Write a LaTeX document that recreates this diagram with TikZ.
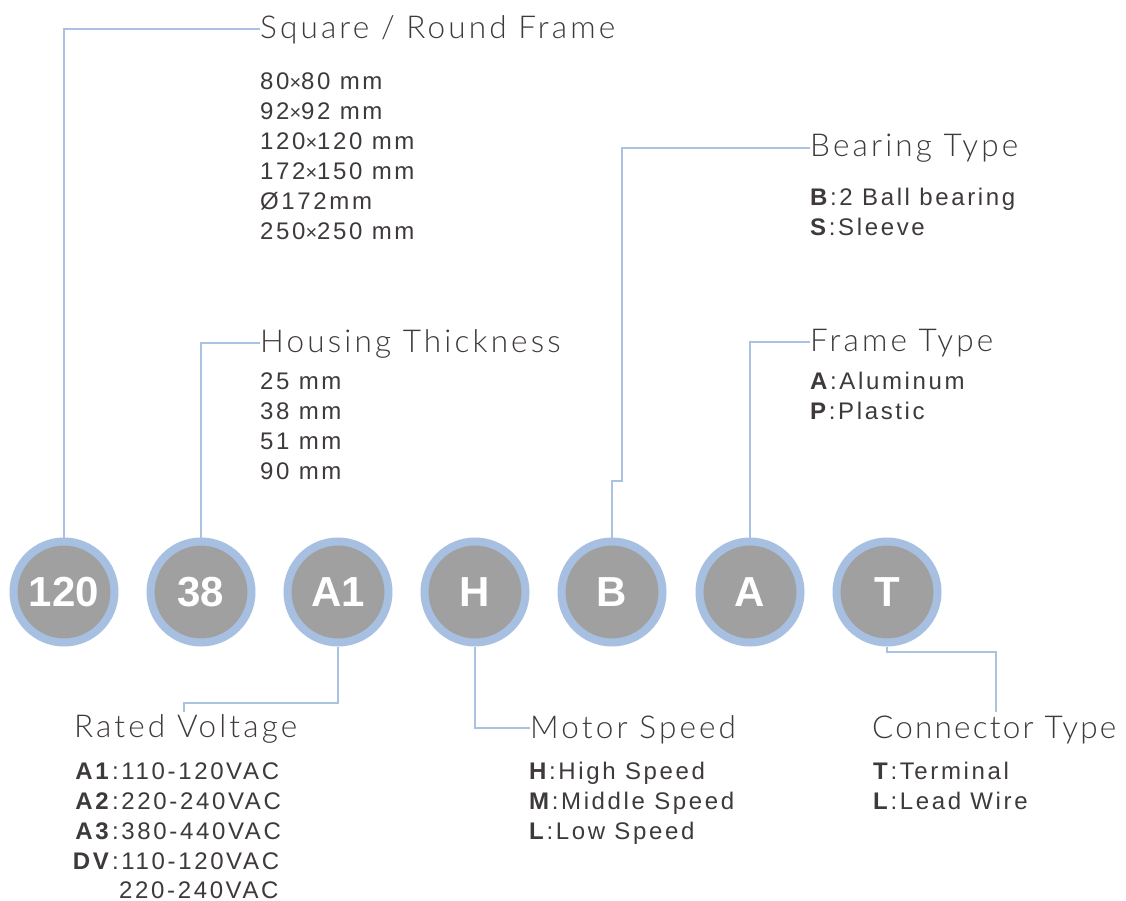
\documentclass[tikz,border=0pt]{standalone}
\usepackage{fontspec}
\setmainfont{Liberation Sans}
\newfontfamily\titlefam[LetterSpace=10]{Lato Light}
\newfontfamily\bodyfam[LetterSpace=11]{Liberation Sans}
\newfontfamily\badgefam{Liberation Sans}
\definecolor{txt}{HTML}{3E3A39}
\definecolor{circgray}{HTML}{A0A0A0}
\definecolor{ringblue}{HTML}{A7BFE0}
\definecolor{lineblue}{HTML}{A9C2E2}
\newcommand{\tms}{{\fontsize{20}{20}\selectfont ×}}
\begin{document}
\begin{tikzpicture}[x=1pt,y=-1pt,
  badge/.style={circle, fill=circgray, draw=ringblue, line width=8pt, minimum size=101pt, inner sep=0pt, text=white, font=\badgefam\fontsize{42}{42}\selectfont\bfseries},
  conn/.style={draw=lineblue, line width=1.5pt},
  ttl/.style={anchor=base west, inner sep=0pt, text=txt, font=\titlefam\fontsize{31.5}{31.5}\selectfont},
  bdy/.style={anchor=base west, inner sep=0pt, text=txt, font=\bodyfam\fontsize{24}{30}\selectfont},
  lbl/.style={anchor=base east, inner sep=0pt, text=txt, font=\bodyfam\fontsize{24}{30}\selectfont\bfseries}]
\useasboundingbox (0,0) rectangle (1126,901);
\fill[white] (0,0) rectangle (1126,901);
% badges
\node[badge] (c120) at (64,592) {120};
\node[badge] (c38) at (201,592) {38};
\node[badge] (cA1) at (338,592) {A1};
\node[badge] (cH) at (475,592) {H};
\node[badge] (cB) at (612,592) {B};
\node[badge] (cA) at (750,592) {A};
\node[badge] (cT) at (887,592) {T};
% titles
\node[ttl] (tSq) at (260,39) {Square / Round Frame};
\node[ttl] (tHT) at (260,352) {Housing Thickness};
\node[ttl] (tBT) at (810,157) {Bearing Type};
\node[ttl] (tFT) at (810,351) {Frame Type};
\node[ttl] (tRV) at (74,737) {Rated Voltage};
\node[ttl] (tMS) at (530,738) {Motor Speed};
\node[ttl] (tCT) at (872,738) {\addfontfeatures{LetterSpace=7}Connector Type};
% bodies
\foreach \t [count=\i] in {80\tms80 mm, 92\tms92 mm, 120\tms120 mm, 172\tms150 mm, Ø172mm, 250\tms250 mm}
  \node[bdy] (sq\i) at (260,60+30*\i) {\t};
\foreach \t [count=\i] in {25 mm, 38 mm, 51 mm, 90 mm}
  \node[bdy] (ht\i) at (260,359+30*\i) {\t};
\node[bdy] (bt1) at (810,206) {\textbf{B}:2 Ball bearing};
\node[bdy] (bt2) at (810,236) {\textbf{S}:Sleeve};
\node[bdy] (ft1) at (810,389) {\textbf{A}:Aluminum};
\node[bdy] (ft2) at (810,419) {\textbf{P}:Plastic};
\foreach \l/\v [count=\i] in {A1/110-120VAC, A2/220-240VAC, A3/380-440VAC, DV/110-120VAC}{
  \node[lbl] (rl\i) at (109,749+30*\i) {\l};
  \node[bdy] (rv\i) at (112,749+30*\i) {:\v};
}
\node[bdy] (rv5) at (119,898) {220-240VAC};
\node[bdy] (ms1) at (529,779) {\textbf{H}:High Speed};
\node[bdy] (ms2) at (529,809) {\textbf{M}:Middle Speed};
\node[bdy] (ms3) at (529,839) {\textbf{L}:Low Speed};
\node[bdy] (ct1) at (873,779) {\textbf{T}:Terminal};
\node[bdy] (ct2) at (873,809) {\textbf{L}:Lead Wire};
% connectors
\draw[conn] (c120.north) |- ([yshift=10pt]tSq.base west);
\draw[conn] (c38.north) |- ([yshift=9pt]tHT.base west);
\coordinate (bj) at (622,481);
\draw[conn] (cB.north) |- (bj) |- ([yshift=9pt]tBT.base west);
\draw[conn] (cA.north) |- ([yshift=9pt]tFT.base west);
\coordinate (rvj) at (184,703);
\draw[conn] (cA1.south) |- (rvj) -- ++(0,9);
\draw[conn] (cH.south) |- ([yshift=10pt]tMS.base west);
\coordinate (tj) at (996,652);
\draw[conn] (cT.south) |- (tj) -- ++(0,60);
\end{tikzpicture}
\end{document}
